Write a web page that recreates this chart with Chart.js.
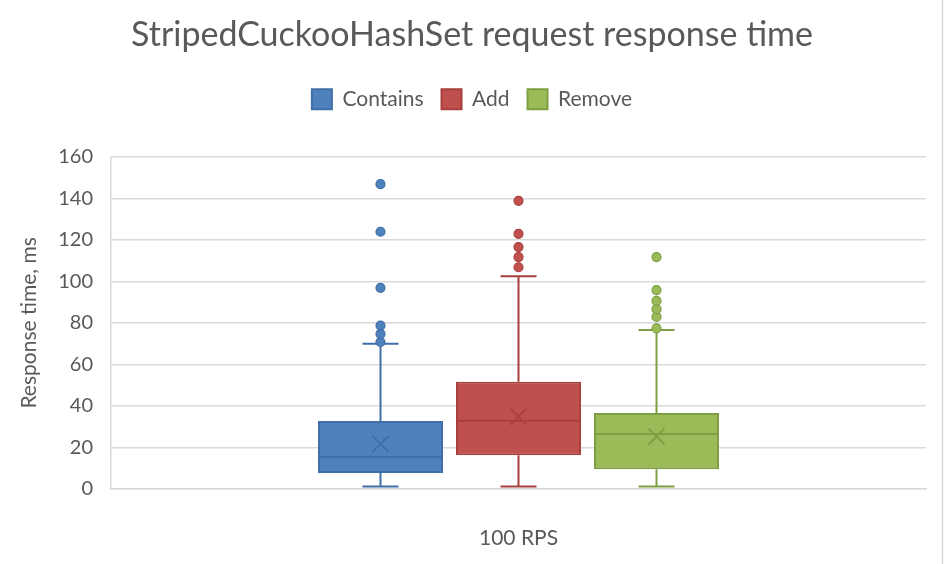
<!DOCTYPE html>
<html>
<head>
<meta charset="utf-8">
<script src="https://cdn.jsdelivr.net/npm/chart.js@4/dist/chart.umd.min.js"></script>
<style>
  html, body { margin: 0; padding: 0; background: #ffffff; }
  #wrap { width: 944px; height: 564px; position: relative; }
</style>
</head>
<body>
<div id="wrap"><canvas id="c" width="944" height="564"></canvas></div>
<script>
// ---- Data ----
const categories = ['100 RPS'];
const seriesNames = ['Contains', 'Add', 'Remove'];
const q1Values = [7.7, 16.2, 9.5];
const medianValues = [15.4, 32.9, 26.5];
const q3Values = [32.8, 51.6, 36.6];
const whiskerMin = [1.2, 1.2, 1.2];
const whiskerMax = [69.9, 102.5, 76.6];
const meanValues = [21.7, 34.9, 25.2];
const containsOutliers = [70.8, 74.7, 78.7, 96.9, 123.9, 146.8];
const addOutliers = [106.8, 111.7, 116.5, 122.9, 138.8];
const removeOutliers = [77.4, 82.9, 86.6, 90.6, 95.8, 111.7];
const yTicks = [0, 20, 40, 60, 80, 100, 120, 140, 160];

const outliers = [containsOutliers, addOutliers, removeOutliers];
const fillColors = ['#4F81BD', '#C0504D', '#9BBB59'];
const lineColors = ['#3F6FA8', '#A8403D', '#7E9E43'];
const textColor = '#595959';
const fontFamily = 'Lato, "Liberation Sans", sans-serif';

const datasets = seriesNames.map((name, i) => ({
  label: name,
  data: [[q1Values[i], q3Values[i]]],
  backgroundColor: fillColors[i],
  borderColor: lineColors[i],
  borderWidth: 2,
  borderSkipped: false,
  barPercentage: 0.906,
  categoryPercentage: 0.508
}));

const legendSpacer = {
  id: 'legendSpacer',
  afterInit(chart) {
    const lg = chart.legend;
    if (!lg) return;
    const origFit = lg.fit;
    lg.fit = function () { origFit.call(this); this.height += 37; };
  }
};

const boxPlugin = {
  id: 'boxExtras',
  afterDatasetsDraw(chart) {
    const ctx = chart.ctx;
    const y = chart.scales.y;
    chart.data.datasets.forEach((ds, i) => {
      const meta = chart.getDatasetMeta(i);
      const bar = meta.data[0];
      const x = bar.x;
      const w = bar.width;
      const cap = 36;
      ctx.save();
      ctx.strokeStyle = lineColors[i];
      ctx.lineWidth = 2;
      ctx.beginPath();
      ctx.moveTo(x, y.getPixelForValue(q3Values[i]));
      ctx.lineTo(x, y.getPixelForValue(whiskerMax[i]));
      ctx.moveTo(x, y.getPixelForValue(q1Values[i]));
      ctx.lineTo(x, y.getPixelForValue(whiskerMin[i]));
      ctx.moveTo(x - cap / 2, y.getPixelForValue(whiskerMax[i]));
      ctx.lineTo(x + cap / 2, y.getPixelForValue(whiskerMax[i]));
      ctx.moveTo(x - cap / 2, y.getPixelForValue(whiskerMin[i]));
      ctx.lineTo(x + cap / 2, y.getPixelForValue(whiskerMin[i]));
      ctx.stroke();
      ctx.beginPath();
      const my = y.getPixelForValue(medianValues[i]);
      ctx.moveTo(x - w / 2, my);
      ctx.lineTo(x + w / 2, my);
      ctx.stroke();
      const ey = y.getPixelForValue(meanValues[i]);
      const s = 8;
      ctx.lineWidth = 1.8;
      ctx.beginPath();
      ctx.moveTo(x - s, ey - s); ctx.lineTo(x + s, ey + s);
      ctx.moveTo(x + s, ey - s); ctx.lineTo(x - s, ey + s);
      ctx.stroke();
      ctx.fillStyle = fillColors[i];
      ctx.lineWidth = 1.2;
      outliers[i].forEach(v => {
        ctx.beginPath();
        ctx.arc(x, y.getPixelForValue(v), 4.5, 0, Math.PI * 2);
        ctx.fill();
        ctx.stroke();
      });
      ctx.restore();
    });
  },
  afterDraw(chart) {
    const ctx = chart.ctx;
    ctx.save();
    ctx.strokeStyle = '#D9D9D9';
    ctx.lineWidth = 1.5;
    ctx.beginPath();
    ctx.moveTo(942.5, 0);
    ctx.lineTo(942.5, chart.height);
    ctx.stroke();
    ctx.restore();
  }
};

new Chart(document.getElementById('c'), {
  type: 'bar',
  data: { labels: categories, datasets },
  plugins: [legendSpacer, boxPlugin],
  options: {
    responsive: false,
    animation: false,
    layout: { padding: { left: 0, right: 0, top: 0, bottom: 0 } },
    plugins: {
      tooltip: { enabled: false },
      title: {
        display: true,
        text: 'StripedCuckooHashSet request response time',
        color: textColor,
        font: { family: fontFamily, size: 34, weight: 'normal' },
        padding: { top: 15, bottom: 15 }
      },
      legend: {
        display: true,
        position: 'top',
        labels: {
          color: textColor,
          font: { family: fontFamily, size: 21 },
          boxWidth: 20,
          boxHeight: 20,
          padding: 18
        }
      }
    },
    scales: {
      x: {
        grid: { display: false, drawTicks: false },
        border: { display: true, color: '#D9D9D9', width: 1.5 },
        ticks: { color: textColor, font: { family: fontFamily, size: 21 }, padding: 37 },
        afterFit(scale) { scale.height = 75; }
      },
      y: {
        min: 0,
        max: 160,
        afterBuildTicks(axis) { axis.ticks = yTicks.map(v => ({ value: v })); },
        afterFit(scale) { scale.width = 111; },
        grid: { color: '#D9D9D9', lineWidth: 1.5, drawTicks: false },
        border: { display: true, color: '#D9D9D9', width: 1.5 },
        ticks: { color: textColor, font: { family: fontFamily, size: 20 }, padding: 18 },
        title: {
          display: true,
          text: 'Response time, ms',
          color: textColor,
          font: { family: fontFamily, size: 21 },
          padding: { top: 17, bottom: 0 }
        }
      },
      ySpacer: {
        type: 'linear',
        position: 'right',
        min: 0,
        max: 160,
        grid: { display: false, drawTicks: false },
        border: { display: false },
        ticks: { display: false },
        afterFit(scale) { scale.width = 18; }
      }
    }
  }
});
</script>
</body>
</html>
